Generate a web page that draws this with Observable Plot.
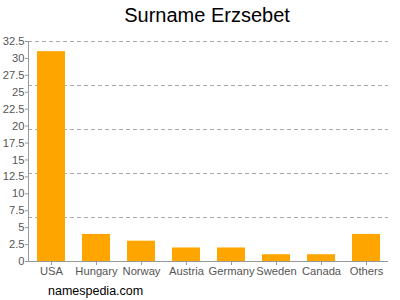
<!DOCTYPE html>
<html>
<head>
<meta charset="utf-8">
<script src="https://cdn.jsdelivr.net/npm/d3@7"></script>
<script src="https://cdn.jsdelivr.net/npm/@observablehq/plot@0.6"></script>
<style>
  html, body { margin: 0; padding: 0; background: #fff; }
  body { width: 400px; height: 300px; overflow: hidden; font-family: "Liberation Sans", Arial, sans-serif; }
  #title { height: 32px; line-height: 30px; font-size: 20px; color: #000; text-align: center; padding-left: 14px; box-sizing: border-box; }
  #caption { height: 18px; line-height: 18px; font-size: 12.5px; color: #000; padding-left: 48px; }
  svg { display: block; }
</style>
</head>
<body>
<div id="title">Surname Erzsebet</div>
<div id="chart"></div>
<div id="caption">namespedia.com</div>
<script>
const countries = ["USA", "Hungary", "Norway", "Austria", "Germany", "Sweden", "Canada", "Others"];
const counts = [31, 4, 3, 2, 2, 1, 1, 4];
const yTicks = [0, 2.5, 5, 7.5, 10, 12.5, 15, 17.5, 20, 22.5, 25, 27.5, 30, 32.5];
const gridLines = [6.5, 13, 19.5, 26, 32.5];

const data = countries.map((c, i) => ({country: c, count: counts[i]}));

const chart = Plot.plot({
  width: 400,
  height: 250,
  marginTop: 9,
  marginLeft: 28,
  marginRight: 12,
  marginBottom: 21,
  style: {fontFamily: "'Liberation Sans', Arial, sans-serif", fontSize: "11.2px", color: "#555", background: "#fff"},
  x: {domain: countries, paddingInner: 0.38, paddingOuter: 0.19, label: null},
  y: {domain: [0, 32.5], label: null},
  marks: [
    Plot.ruleY(gridLines, {stroke: "#aaa", strokeDasharray: "4,3", strokeWidth: 1}),
    Plot.barY(data, {x: "country", y: "count", fill: "#FFA500"}),
    Plot.ruleY([0], {stroke: "#999"}),
    Plot.frame({anchor: "left", stroke: "#999"}),
    Plot.axisY({ticks: yTicks, tickSize: 3, tickPadding: 1, stroke: "#999", fill: "#555", label: null, tickFormat: d => String(d)}),
    Plot.axisX({tickSize: 4, tickPadding: 2, stroke: "#999", fill: "#555", label: null})
  ]
});
document.getElementById("chart").appendChild(chart);
</script>
</body>
</html>
